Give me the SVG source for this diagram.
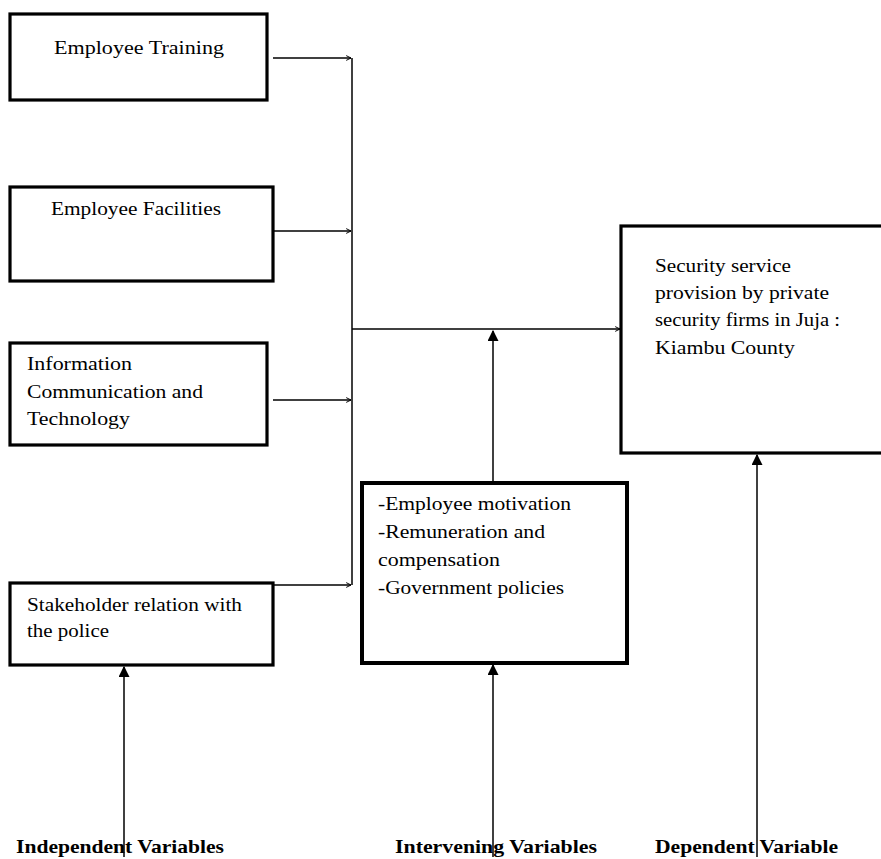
<svg xmlns="http://www.w3.org/2000/svg" width="881" height="859" viewBox="0 0 881 859">
<style>
.box{fill:#fff;stroke:#000;stroke-width:3.2}
.t{font-family:"Liberation Serif","Times New Roman",serif;font-size:18.5px;fill:#000}
.lbl{font-family:"Liberation Serif","Times New Roman",serif;font-size:19px;font-weight:bold;fill:#000}
.c{fill:none;stroke:#000;stroke-width:1.5}
</style>
<defs>
<marker id="open" viewBox="0 0 10 10" refX="9" refY="5" markerWidth="6" markerHeight="6" markerUnits="userSpaceOnUse" orient="auto">
<path d="M1,1 L9,5 L1,9" fill="none" stroke="#000" stroke-width="1.6"/>
</marker>
<marker id="fill" viewBox="0 0 10 10" refX="9" refY="5" markerWidth="11" markerHeight="11" markerUnits="userSpaceOnUse" orient="auto">
<path d="M0,0 L10,5 L0,10 Z" fill="#000"/>
</marker>
</defs>
<rect width="881" height="859" fill="#fff"/>
<g id="connectors">
<path class="c" d="M273,58 H351" marker-end="url(#open)"/>
<path class="c" d="M273,231 H351" marker-end="url(#open)"/>
<path class="c" d="M273,400 H351" marker-end="url(#open)"/>
<path class="c" d="M273,585 H351" marker-end="url(#open)"/>
<path class="c" d="M352,58 V585"/>
<path class="c" d="M352,329 H620" marker-end="url(#open)"/>
<path class="c" d="M493,481 V331" marker-end="url(#fill)"/>
<path class="c" d="M124,857 V667" marker-end="url(#fill)"/>
<path class="c" d="M493,857 V665" marker-end="url(#fill)"/>
<path class="c" d="M757,857 V455" marker-end="url(#fill)"/>
</g>
<g id="employee-training">
<rect class="box" x="10" y="14" width="257" height="86"/>
<text class="t" x="54" y="54" textLength="170" lengthAdjust="spacingAndGlyphs">Employee Training</text>
</g>
<g id="employee-facilities">
<rect class="box" x="10" y="187" width="263" height="94"/>
<text class="t" x="51" y="215" textLength="170" lengthAdjust="spacingAndGlyphs">Employee Facilities</text>
</g>
<g id="ict">
<rect class="box" x="10" y="343" width="257" height="102"/>
<text class="t" x="27" y="370" textLength="105" lengthAdjust="spacingAndGlyphs">Information</text>
<text class="t" x="27" y="398" textLength="176" lengthAdjust="spacingAndGlyphs">Communication and</text>
<text class="t" x="27" y="425" textLength="103" lengthAdjust="spacingAndGlyphs">Technology</text>
</g>
<g id="stakeholder">
<rect class="box" x="10" y="583" width="263" height="82"/>
<text class="t" x="27" y="611" textLength="215" lengthAdjust="spacingAndGlyphs">Stakeholder relation with</text>
<text class="t" x="27" y="637" textLength="82" lengthAdjust="spacingAndGlyphs">the police</text>
</g>
<g id="intervening">
<rect class="box" x="362" y="483" width="265" height="180" style="stroke-width:4"/>
<text class="t" x="378" y="510" textLength="193" lengthAdjust="spacingAndGlyphs">-Employee motivation</text>
<text class="t" x="378" y="538" textLength="167" lengthAdjust="spacingAndGlyphs">-Remuneration and</text>
<text class="t" x="378" y="566" textLength="122" lengthAdjust="spacingAndGlyphs">compensation</text>
<text class="t" x="378" y="594" textLength="186" lengthAdjust="spacingAndGlyphs">-Government policies</text>
</g>
<g id="dependent">
<rect class="box" x="621" y="226" width="264" height="227"/>
<text class="t" x="655" y="272" textLength="136" lengthAdjust="spacingAndGlyphs">Security service</text>
<text class="t" x="655" y="299" textLength="174" lengthAdjust="spacingAndGlyphs">provision by private</text>
<text class="t" x="655" y="326" textLength="185" lengthAdjust="spacingAndGlyphs">security firms in Juja :</text>
<text class="t" x="655" y="354" textLength="140" lengthAdjust="spacingAndGlyphs">Kiambu County</text>
</g>
<g id="labels">
<text class="lbl" x="16" y="853" textLength="208" lengthAdjust="spacingAndGlyphs">Independent Variables</text>
<text class="lbl" x="395" y="853" textLength="202" lengthAdjust="spacingAndGlyphs">Intervening Variables</text>
<text class="lbl" x="655" y="853" textLength="183" lengthAdjust="spacingAndGlyphs">Dependent Variable</text>
</g>
</svg>
